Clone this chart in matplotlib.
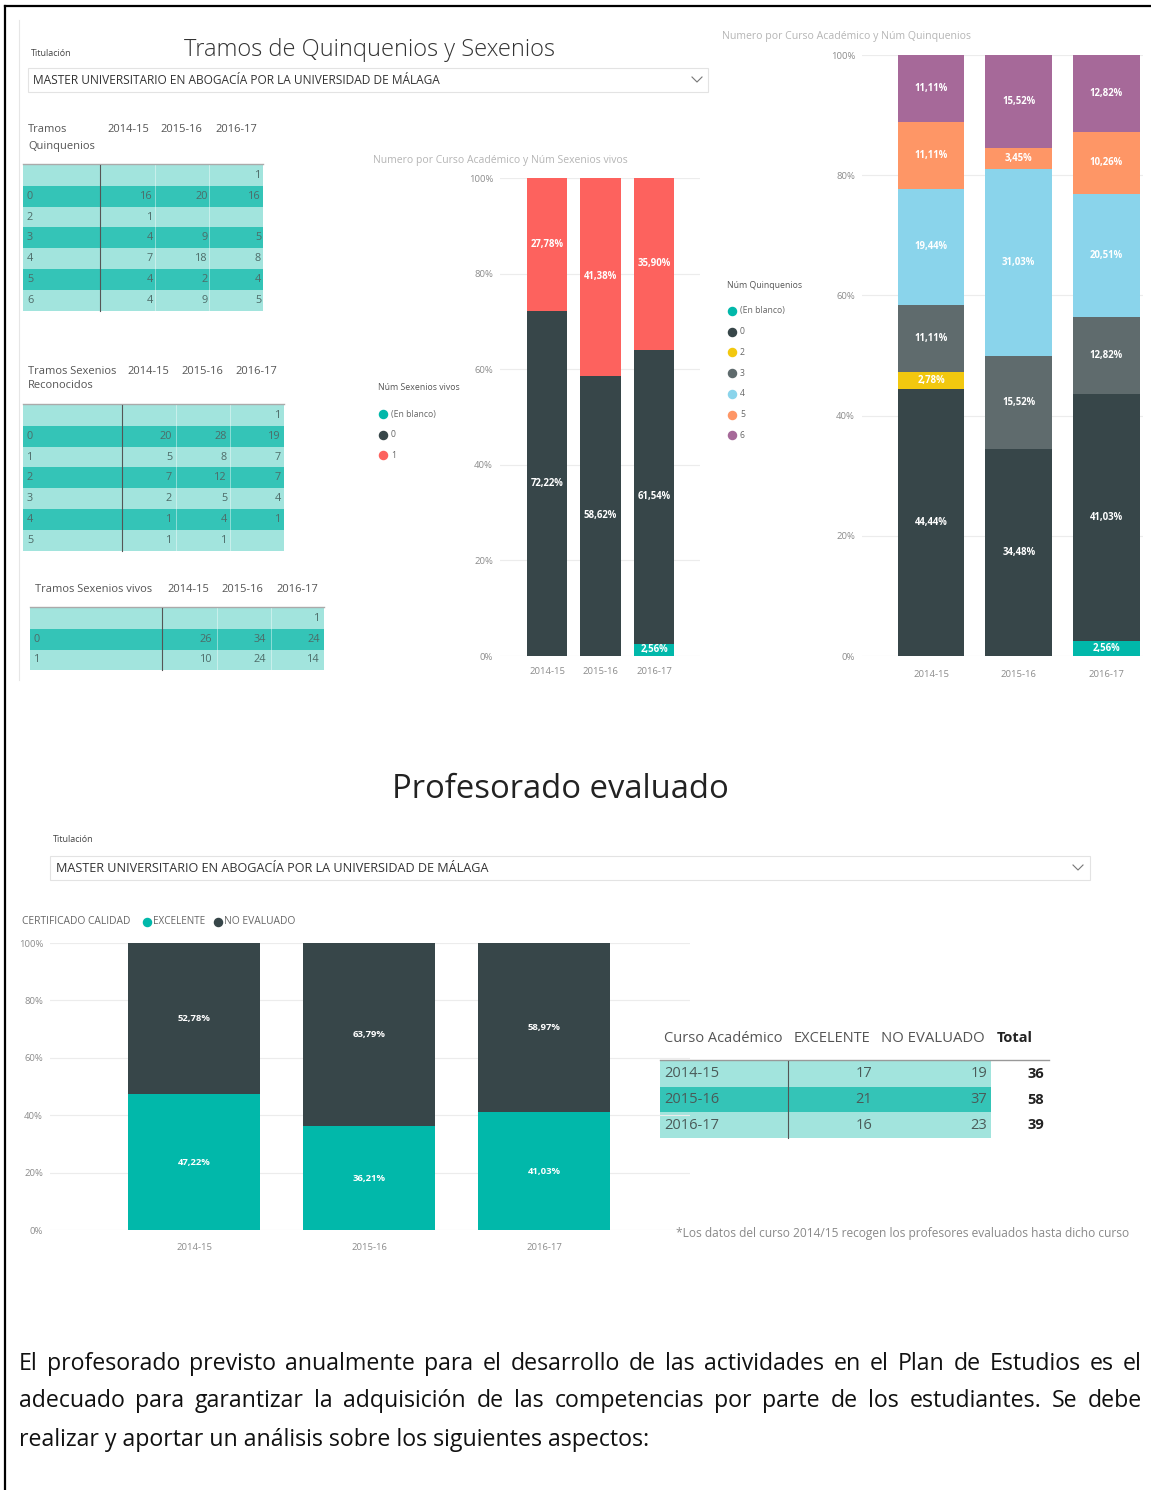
import matplotlib
matplotlib.use('Agg')
import matplotlib.pyplot as plt
from matplotlib.patches import Rectangle
import numpy as np

W, H = 1151, 1490
DPI = 100
plt.rcParams['font.family'] = ['Open Sans', 'DejaVu Sans']

# ---------------- data ----------------
years = ['2014-15', '2015-16', '2016-17']

quin_rows = ['', '0', '2', '3', '4', '5', '6']
quin_counts = [[None, None, 1], [16, 20, 16], [1, None, None], [4, 9, 5],
               [7, 18, 8], [4, 2, 4], [4, 9, 5]]
quin_legend = ['(En blanco)', '0', '2', '3', '4', '5', '6']

sexrec_rows = ['', '0', '1', '2', '3', '4', '5']
sexrec_counts = [[None, None, 1], [20, 28, 19], [5, 8, 7], [7, 12, 7],
                 [2, 5, 4], [1, 4, 1], [1, 1, None]]

sexviv_rows = ['', '0', '1']
sexviv_counts = [[None, None, 1], [26, 34, 24], [10, 24, 14]]
sexviv_legend = ['(En blanco)', '0', '1']

eval_cats = ['EXCELENTE', 'NO EVALUADO']
eval_excelente = [17, 21, 16]
eval_no_eval = [19, 37, 23]
eval_total = [36, 58, 39]

# ---------------- styles ----------------
TEAL = '#01B8AA'; DARK = '#374649'; RED = '#FD625E'; YEL = '#F2C80F'
GRAY = '#5F6B6D'; LBLUE = '#8AD4EB'; ORANGE = '#FE9666'; PURPLE = '#A66999'
quin_colors = [TEAL, DARK, YEL, GRAY, LBLUE, ORANGE, PURPLE]
viv_colors = [TEAL, DARK, RED]
LIGHT_ROW = '#A2E4DD'; DARK_ROW = '#34C4B7'

fig = plt.figure(figsize=(W / DPI, H / DPI), dpi=DPI)
bg = fig.add_axes([0, 0, 1, 1], zorder=0)
bg.set_xlim(0, W); bg.set_ylim(H, 0); bg.axis('off')
renderer = fig.canvas.get_renderer()


def txt(x, y, s, size, color='#444', ha='left', va='center', weight='normal', width=None, **kw):
    t = bg.text(x, y, s, fontsize=size, color=color, ha=ha, va=va, fontweight=weight, **kw)
    if width:
        w = t.get_window_extent(renderer).width
        t.set_fontsize(size * width / w)
    return t


def justify(x0, x1, y, s, size, color='#111'):
    words = s.split()
    ts = [bg.text(0, y, w, fontsize=size, color=color, va='center') for w in words]
    widths = [t.get_window_extent(renderer).width for t in ts]
    gap = (x1 - x0 - sum(widths)) / (len(words) - 1)
    x = x0
    for t, w in zip(ts, widths):
        t.set_x(x)
        x += w + gap


# outer frame (left and top only)
bg.plot([5, 5], [H, 6], color='black', lw=1.6)
bg.plot([5, W], [6, 6], color='black', lw=1.6)
# screenshot faint border
bg.plot([19, 19], [20, 680], color='#e6e6e6', lw=0.8)

# ---------------- header / dropdown top ----------------
txt(31, 54, 'Titulación', 6.5, color='#444')
txt(184, 50, 'Tramos de Quinquenios y Sexenios', 17, color='#333', width=372, weight='light')
bg.add_patch(Rectangle((28, 68), 680, 24, fc='white', ec='#e3e3e3', lw=0.8))
txt(33, 81, 'MASTER UNIVERSITARIO EN ABOGACÍA POR LA UNIVERSIDAD DE MÁLAGA', 7.5, color='#333', width=406)
bg.plot([692, 697, 702], [77, 82, 77], color='#777', lw=0.8)


# ---------------- tables ----------------
def draw_table(x0, x1, sep, top, rowh, col_r, dividers, rows, counts, size=7.8):
    bg.plot([x0, x1], [top - 1.5, top - 1.5], color='#aaaaaa', lw=1)
    for i, (lab, vals) in enumerate(zip(rows, counts)):
        y = top + i * rowh
        c = LIGHT_ROW if i % 2 == 0 else DARK_ROW
        bg.add_patch(Rectangle((x0, y), x1 - x0, rowh, fc=c, ec='none'))
        txt(x0 + 4, y + rowh / 2, lab, size, color='#4d6b68')
        for v, xr in zip(vals, col_r):
            if v is not None:
                txt(xr, y + rowh / 2, str(v), size, color='#4d6b68', ha='right')
    bot = top + len(rows) * rowh
    for d in dividers:
        bg.plot([d, d], [top, bot], color='white', lw=0.5, alpha=0.6)
    bg.plot([sep, sep], [top, bot], color='#555', lw=0.8)


# table 1
txt(28, 130, 'Tramos', 8, color='#555')
txt(28, 146, 'Quinquenios', 8, color='#555')
for yr, xx in zip(years, [107, 160, 215]):
    txt(xx, 130, yr, 8, color='#555')
draw_table(23, 263, 100, 165, 20.8, [153, 208, 261], [155, 209], quin_rows, quin_counts)

# table 2
txt(28, 371, 'Tramos Sexenios', 8, color='#555')
txt(28, 386, 'Reconocidos', 8, color='#555')
for yr, xx in zip(years, [127, 181, 235]):
    txt(xx, 371, yr, 8, color='#555')
draw_table(23, 284, 122, 405, 20.8, [172, 227, 281], [176, 230], sexrec_rows, sexrec_counts)

# table 3
txt(35, 589, 'Tramos Sexenios vivos', 8, color='#555')
for yr, xx in zip(years, [167, 221, 276]):
    txt(xx, 589, yr, 8, color='#555')
draw_table(30, 324, 162, 608, 20.8, [212, 266, 320], [217, 271], sexviv_rows, sexviv_counts)


# ---------------- stacked charts ----------------
def px_axes(x0, y0, x1, y1):
    return fig.add_axes([x0 / W, 1 - y1 / H, (x1 - x0) / W, (y1 - y0) / H], zorder=2)


def fmt(v):
    return f'{v:.2f}'.replace('.', ',') + '%'


def stacked(ax, series, colors, width, fs, xlim, tick_fs=6.8, xpad=8):
    x = np.arange(len(years))
    bottoms = np.zeros(len(years))
    for vals, c in zip(series, colors):
        vals = np.array([0 if v is None else v for v in vals], float)
        ax.bar(x, vals, width, bottom=bottoms, color=c, zorder=2)
        for i, v in enumerate(vals):
            if v > 0:
                ax.text(i, bottoms[i] + v / 2, fmt(v), ha='center', va='center',
                        color='white', fontsize=fs, fontweight='bold', zorder=3)
        bottoms += vals
    ax.set_xlim(*xlim)
    ax.set_ylim(0, 100)
    ax.set_yticks(np.arange(0, 101, 20))
    ax.set_yticklabels([f'{v}%' for v in range(0, 101, 20)])
    ax.set_xticks(x)
    ax.set_xticklabels(years)
    ax.tick_params(length=0, labelsize=tick_fs, labelcolor='#8c8c8c')
    ax.tick_params(axis='x', pad=xpad)
    ax.tick_params(axis='y', pad=5)
    ax.grid(axis='y', color='#ececec', lw=0.8, zorder=0)
    ax.set_axisbelow(True)
    for s in ax.spines.values():
        s.set_visible(False)
    ax.patch.set_alpha(0)


def pct(rows_counts):
    arr = np.array([[0 if v is None else v for v in r] for r in rows_counts], float)
    tot = arr.sum(axis=0)
    return [list(r / tot * 100) for r in arr]


# chart: sexenios vivos
ax1 = px_axes(500, 178, 700, 656)
stacked(ax1, pct(sexviv_counts), viv_colors, 0.75, 6.9, (-0.879, 2.86))
txt(373, 160, 'Numero por Curso Académico y Núm Sexenios vivos', 6.5, color='#b5b5b5', width=253)
txt(378, 387, 'Núm Sexenios vivos', 6.3, color='#555')
for i, (lab, c) in enumerate(zip(sexviv_legend, viv_colors)):
    yy = 414 + i * 20.5
    bg.scatter([383], [yy], s=34, color=c, zorder=3)
    txt(391, yy, lab, 6.2, color='#666')

# chart: quinquenios
ax2 = px_axes(862, 55, 1143, 656)
stacked(ax2, pct(quin_counts), quin_colors, 0.76, 6.9, (-0.787, 2.417), xpad=10)
txt(722, 36, 'Numero por Curso Académico y Núm Quinquenios', 6.5, color='#b5b5b5', width=246)
txt(727, 285, 'Núm Quinquenios', 6.3, color='#555')
for i, (lab, c) in enumerate(zip(quin_legend, quin_colors)):
    yy = 311 + i * 20.7
    bg.scatter([732], [yy], s=34, color=c, zorder=3)
    txt(740, yy, lab, 6.2, color='#666')

# ---------------- Profesorado evaluado ----------------
txt(560, 790, 'Profesorado evaluado', 22, color='#222', ha='center', width=337)
txt(53, 840, 'Titulación', 6.5, color='#444')
bg.add_patch(Rectangle((50, 856), 1040, 24, fc='white', ec='#e3e3e3', lw=0.8))
txt(56, 868, 'MASTER UNIVERSITARIO EN ABOGACÍA POR LA UNIVERSIDAD DE MÁLAGA', 7.5, color='#333', width=428)
bg.plot([1073, 1078, 1083], [865, 870, 865], color='#777', lw=0.8)

# legend
txt(22, 922, 'CERTIFICADO CALIDAD', 6.3, color='#666', width=109)
bg.scatter([147], [922], s=34, color=TEAL, zorder=3)
txt(153, 922, 'EXCELENTE', 6.3, color='#666', width=52)
bg.scatter([218], [922], s=34, color=DARK, zorder=3)
txt(224, 922, 'NO EVALUADO', 6.3, color='#666', width=71)

ax3 = px_axes(50, 943, 690, 1230)
ev = [[e / t * 100 for e, t in zip(eval_excelente, eval_total)],
      [n / t * 100 for n, t in zip(eval_no_eval, eval_total)]]
stacked(ax3, ev, [TEAL, DARK], 0.754, 6.8, (-0.823, 2.834), xpad=9)

# bottom table
hy = 1038
txt(664, hy, 'Curso Académico', 10, color='#555', width=118)
txt(794, hy, 'EXCELENTE', 10, color='#555', width=77)
txt(881, hy, 'NO EVALUADO', 10, color='#555', width=104)
txt(997, hy, 'Total', 10, color='#222', weight='bold', width=36)
bg.plot([660, 1049], [1060, 1060], color='#999', lw=1)
rowh = 25.7
for i in range(3):
    y = 1061 + i * rowh
    c = LIGHT_ROW if i % 2 == 0 else DARK_ROW
    bg.add_patch(Rectangle((660, y), 331, rowh, fc=c, ec='none'))
    txt(664, y + rowh / 2, years[i], 10.5, color='#4a5a58')
    txt(872, y + rowh / 2, str(eval_excelente[i]), 10.5, color='#4a5a58', ha='right')
    txt(987, y + rowh / 2, str(eval_no_eval[i]), 10.5, color='#4a5a58', ha='right')
    txt(1044, y + rowh / 2, str(eval_total[i]), 10.5, color='#222', ha='right', weight='bold')
bg.plot([788, 788], [1061, 1061 + 3 * rowh], color='#555', lw=0.8)

txt(676, 1234, '*Los datos del curso 2014/15 recogen los profesores evaluados hasta dicho curso',
    8, color='#8a8a8a', width=457)

# ---------------- paragraph ----------------
probe = bg.text(0, 0, 'realizar y aportar un análisis sobre los siguientes aspectos:', fontsize=16)
psize = 16 * 631 / probe.get_window_extent(renderer).width
probe.remove()
justify(19, 1142, 1364, 'El profesorado previsto anualmente para el desarrollo de las actividades en el Plan de Estudios es el', psize)
justify(19, 1142, 1401, 'adecuado para garantizar la adquisición de las competencias por parte de los estudiantes. Se debe', psize)
txt(19, 1440, 'realizar y aportar un análisis sobre los siguientes aspectos:', psize, color='#111')

fig.savefig('out.png', dpi=DPI)
